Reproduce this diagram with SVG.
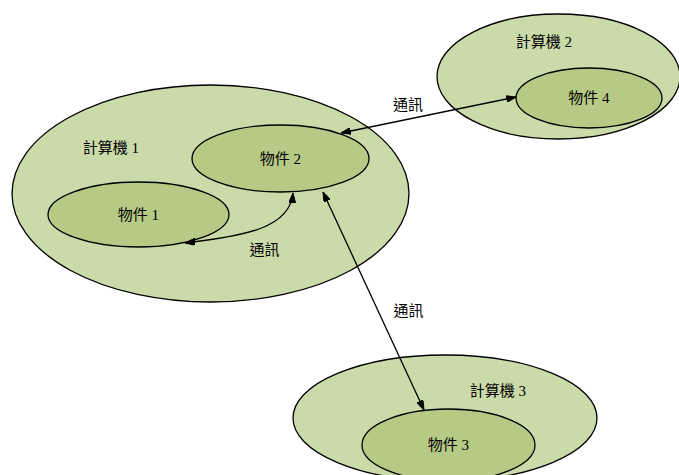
<svg xmlns="http://www.w3.org/2000/svg" width="679" height="475" viewBox="0 0 679 475">
<style>
.outer{fill:#cbdaa9;stroke:#000;stroke-width:1.3}
.inner{fill:#b6ca85;stroke:#000;stroke-width:1.3}
text{font-family:"Liberation Serif","Noto Sans CJK TC",serif;font-size:15px;fill:#000;text-anchor:middle;dominant-baseline:central}
.edge{fill:none;stroke:#000;stroke-width:1.3}
</style>
<defs>
<marker id="ah" viewBox="0 0 10 7" refX="10" refY="3.5" markerWidth="10" markerHeight="7" markerUnits="userSpaceOnUse" orient="auto-start-reverse">
<path d="M0,0 L10,3.5 L0,7 Z" fill="#000" stroke="#000" stroke-width="1"/>
</marker>
</defs>
<rect width="679" height="475" fill="#fff"/>
<g id="computer1">
<ellipse class="outer" cx="210.5" cy="193.5" rx="198.5" ry="108.5"/>
<text x="111" y="148">計算機 1</text>
</g>
<g id="computer2">
<ellipse class="outer" cx="558.5" cy="76.5" rx="121.5" ry="62.5"/>
<text x="544" y="42">計算機 2</text>
</g>
<g id="computer3">
<ellipse class="outer" cx="445" cy="418" rx="152" ry="63"/>
<text x="498" y="391">計算機 3</text>
</g>
<g id="object1">
<ellipse class="inner" cx="138.5" cy="214.5" rx="90.5" ry="32.5"/>
<text x="138.5" y="214.5">物件 1</text>
</g>
<g id="object2">
<ellipse class="inner" cx="280.5" cy="158.5" rx="88.5" ry="33.5"/>
<text x="280.5" y="158.5">物件 2</text>
</g>
<g id="object4">
<ellipse class="inner" cx="589" cy="98" rx="73" ry="30"/>
<text x="589" y="98">物件 4</text>
</g>
<g id="object3">
<ellipse class="inner" cx="448.5" cy="445" rx="86.5" ry="36"/>
<text x="448.5" y="445">物件 3</text>
</g>
<g id="connectors">
<path class="edge" d="M185,243 C245,236 290,228 293,193" marker-start="url(#ah)" marker-end="url(#ah)"/>
<text x="264.5" y="250">通訊</text>
<path class="edge" d="M341,133 L516,97" marker-start="url(#ah)" marker-end="url(#ah)"/>
<text x="408" y="105">通訊</text>
<path class="edge" d="M323,192 L424,410" marker-start="url(#ah)" marker-end="url(#ah)"/>
<text x="408.5" y="311">通訊</text>
</g>
</svg>
